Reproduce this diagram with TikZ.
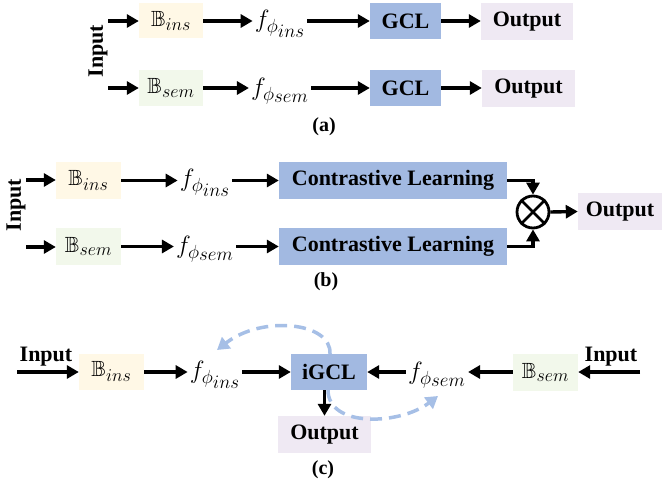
\documentclass[tikz,border=0pt]{standalone}
\usepackage{fix-cm}
\usepackage{amssymb}
\usepackage{fontspec}
\setmainfont{Liberation Serif}
\DeclareMathSizes{22}{22}{18}{14}
\DeclareMathSizes{25}{25}{19}{16}
\usetikzlibrary{arrows.meta,calc}
\definecolor{yel}{HTML}{FFF8E6}
\definecolor{grn}{HTML}{F2F8EB}
\definecolor{blu}{HTML}{A2B9E1}
\definecolor{pur}{HTML}{EFE9F3}
\definecolor{dashcol}{HTML}{A6BFE6}
\tikzset{
 bx/.style={rectangle, inner sep=0pt, font=\fontsize{22}{26}\selectfont\bfseries},
 txt/.style={inner sep=0pt, font=\fontsize{22}{26}\selectfont\bfseries},
 ar/.style={line width=3.4pt, -{Triangle[length=12pt,width=13pt]}},
 mt/.style={inner sep=2pt, font=\fontsize{25}{30}\selectfont},
 mb/.style={font=\fontsize{22}{26}\selectfont},
 lab/.style={inner sep=0pt, font=\fontsize{20}{24}\selectfont\bfseries},
 dsh/.style={line width=3.5pt, draw=dashcol, dash pattern=on 12pt off 7pt, -{Triangle[length=12pt,width=14pt,fill=dashcol]}},
}
\begin{document}
\begin{tikzpicture}[x=1pt,y=-1pt]
\useasboundingbox (0,0) rectangle (664,489);
% ---------- (a)
\node[txt, rotate=90] (ainput) at (98,51) {Input};
\coordinate (ac1) at (108,21);
\coordinate (ac2) at (108,88);
\node[bx, mb, fill=yel, minimum width=64, minimum height=35] (abins) at (171,21) {$\mathbb{B}_{ins}$};
\node[bx, mb, fill=grn, minimum width=64, minimum height=36] (absem) at (171,88) {$\mathbb{B}_{sem}$};
\node[mt] (afins) at (280,24) {$f_{\phi_{\scriptstyle ins}}$};
\node[mt] (afsem) at (280,91) {$f_{\phi_{\scriptstyle sem}}$};
\node[bx, fill=blu, minimum width=71, minimum height=36] (agcl1) at (405.5,21) {GCL};
\node[bx, fill=blu, minimum width=71, minimum height=36] (agcl2) at (405.5,88) {GCL};
\node[bx, fill=pur, minimum width=92, minimum height=37] (aout1) at (527,21.5) {Output};
\node[bx, fill=pur, minimum width=93, minimum height=37] (aout2) at (528.5,88.5) {Output};
\node[lab] (alab) at (324,127) {(a)};
\draw[ar] (ac1) -- (abins.west);
\draw[ar] (ac2) -- (absem.west);
\draw[ar] (abins.east) -- (abins.east -| afins.west);
\draw[ar] (absem.east) -- (absem.east -| afsem.west);
\draw[ar] (agcl1.west -| afins.east) -- (agcl1.west);
\draw[ar] (agcl2.west -| afsem.east) -- (agcl2.west);
\draw[ar] (agcl1.east) -- (aout1.west |- agcl1.east);
\draw[ar] (agcl2.east) -- (aout2.west |- agcl2.east);
% ---------- (b)
\node[txt, rotate=90] (binput) at (16,205) {Input};
\coordinate (bc1) at (26,180);
\coordinate (bc2) at (26,247);
\node[bx, mb, fill=yel, minimum width=65, minimum height=37] (bbins) at (88.5,180.5) {$\mathbb{B}_{ins}$};
\node[bx, mb, fill=grn, minimum width=65, minimum height=37] (bbsem) at (88.5,246.5) {$\mathbb{B}_{sem}$};
\node[mt] (bfins) at (205,183) {$f_{\phi_{\scriptstyle ins}}$};
\node[mt] (bfsem) at (205,249) {$f_{\phi_{\scriptstyle sem}}$};
\node[bx, fill=blu, minimum width=228, minimum height=37] (bcl1) at (393,180.5) {Contrastive Learning};
\node[bx, fill=blu, minimum width=228, minimum height=37] (bcl2) at (393,246.5) {Contrastive Learning};
\node[circle, draw, line width=2.8pt, minimum size=32, inner sep=0pt] (ox) at (533,212) {};
\draw[line width=2.8pt] (ox.north west) -- (ox.south east) (ox.north east) -- (ox.south west);
\node[bx, fill=pur, minimum width=84, minimum height=37] (bout) at (620,211.5) {Output};
\node[lab] (blab) at (326,282) {(b)};
\draw[ar] (bc1) -- (bbins.west |- bc1);
\draw[ar] (bc2) -- (bbsem.west |- bc2);
\draw[ar] (bbins.east) -- (bbins.east -| bfins.west);
\draw[ar] (bbsem.east) -- (bbsem.east -| bfsem.west);
\draw[ar] (bcl1.west -| bfins.east) -- (bcl1.west);
\draw[ar] (bcl2.west -| bfsem.east) -- (bcl2.west);
\draw[ar] (bcl1.east) -| (ox.north);
\draw[ar] (bcl2.east) -| (ox.south);
\draw[ar] (ox.east) -- (bout.west);
% ---------- (c)
\node[txt] (cin1) at (46,357) {Input};
\coordinate (cc1) at (17,372);
\node[bx, mb, fill=yel, minimum width=65, minimum height=36] (cbins) at (111.5,371.5) {$\mathbb{B}_{ins}$};
\node[mt] (cfins) at (215,375) {$f_{\phi_{\scriptstyle ins}}$};
\node[bx, fill=blu, minimum width=76, minimum height=36] (cigcl) at (329,372) {iGCL};
\node[mt] (cfsem) at (437,375) {$f_{\phi_{\scriptstyle sem}}$};
\node[bx, mb, fill=grn, minimum width=65, minimum height=37] (cbsem) at (545.5,372.5) {$\mathbb{B}_{sem}$};
\node[txt] (cin2) at (611,357) {Input};
\coordinate (cc2) at (640,372);
\node[bx, fill=pur, minimum width=93, minimum height=37] (cout) at (324.5,434.5) {Output};
\node[lab] (clab) at (323,470) {(c)};
\draw[ar] (cc1) -- (cbins.west |- cc1);
\draw[ar] (cbins.east |- cc1) -- (cfins.west |- cc1);
\draw[ar] (cfins.east |- cc1) -- (cigcl.west);
\draw[ar] (cfsem.west |- cc1) -- (cigcl.east);
\draw[ar] (cbsem.west |- cc1) -- (cfsem.east |- cc1);
\draw[ar] (cc2) -- (cbsem.east |- cc2);
\draw[ar] (cigcl.south -| cout) -- (cout.north);
\coordinate (d1) at (330,354);
\coordinate (d1e) at (217,350);
\coordinate (d2) at (328,390);
\coordinate (d2e) at (438,396);
\draw[dsh] (d1) .. controls (332,322) and (262,315) .. (d1e);
\draw[dsh] (d2) .. controls (328,428) and (400,425) .. (d2e);
\end{tikzpicture}
\end{document}
